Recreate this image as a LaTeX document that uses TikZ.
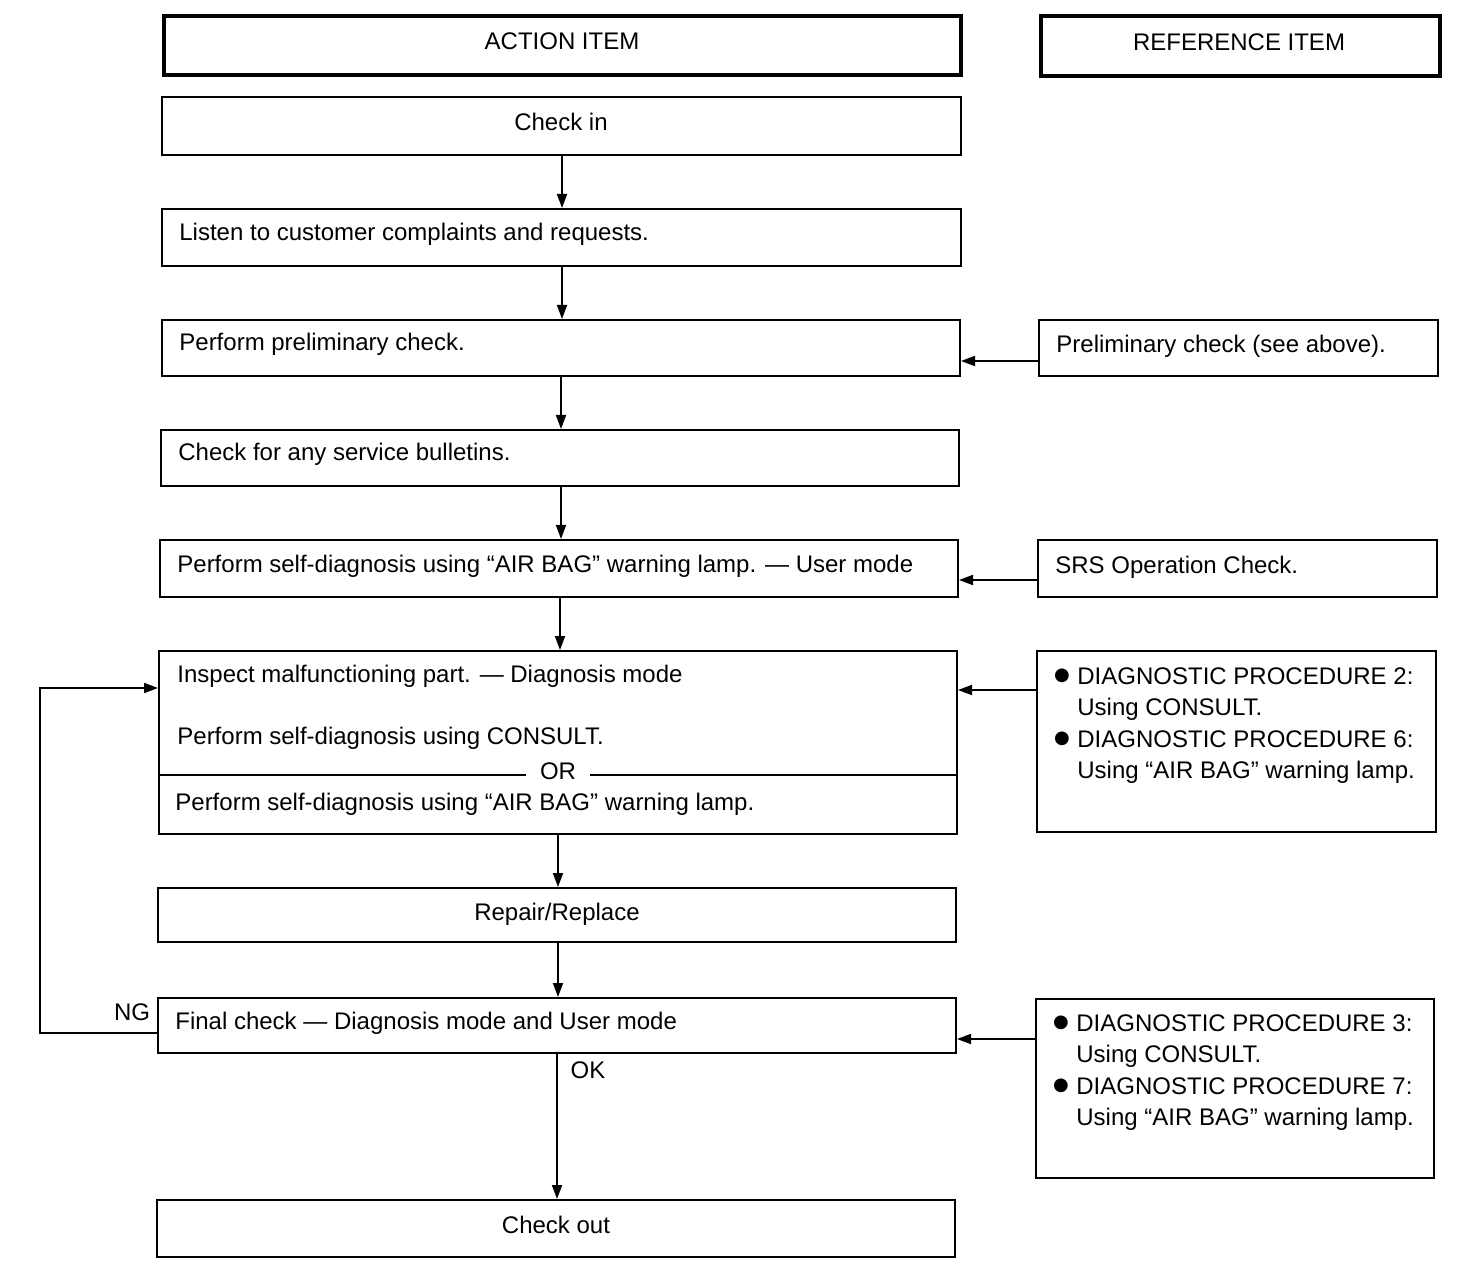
\documentclass[tikz,border=0pt]{standalone}
\usepackage{fontspec}
\setmainfont{Liberation Sans}
\newfontfamily\symfont{DejaVu Sans}
\usetikzlibrary{fit,arrows.meta}
\begin{document}
\begin{tikzpicture}[x=0.5pt,y=-0.5pt,
  box/.style={draw,line width=1pt,inner sep=0pt},
  hbox/.style={draw,line width=2pt,inner sep=0pt},
  txt/.style={font=\fontsize{12}{14}\selectfont,inner sep=0pt,anchor=west,text height=8.6pt,text depth=0pt},
  ctxt/.style={txt,anchor=center},
  bul/.style={font=\symfont\fontsize{9}{11}\selectfont,inner sep=0pt,anchor=center},
  arr/.style={line width=0.9pt,-{Triangle[length=7pt,width=5pt]}},
  ln/.style={line width=0.9pt}]
\useasboundingbox (0,0) rectangle (1472,1272);
% headers
\node[hbox,fit={(164,16) (961,75)}] (hact) {};
\node[ctxt] (hactt) at (562,41) {ACTION ITEM};
\node[hbox,fit={(1041,16) (1440,76)}] (href) {};
\node[ctxt] (hreft) at (1239,42) {REFERENCE ITEM};
% left boxes
\node[box,fit={(162,97) (961,155)}] (checkin) {};
\node[ctxt] (checkint) at (561,122) {Check in};
\node[box,fit={(162,209) (961,266)}] (listen) {};
\node[txt] (listent) at (179,232) {Listen to customer complaints and requests.};
\node[box,fit={(162,320) (960,376)}] (prelim) {};
\node[txt] (prelimt) at (179,342) {Perform preliminary check.};
\node[box,fit={(161,430) (959,486)}] (bull) {};
\node[txt] (bullt) at (178,452) {Check for any service bulletins.};
\node[box,fit={(160,540) (958,597)}] (user) {};
\node[txt] (usert) at (177,564) {Perform self-diagnosis using “AIR BAG” warning lamp. — User mode};
\node[box,fit={(159,651) (957,834)}] (insp) {};
\node[txt] (inspt1) at (177,674) {Inspect malfunctioning part. — Diagnosis mode};
\node[txt] (inspt2) at (177,736) {Perform self-diagnosis using CONSULT.};
\coordinate (orl) at (159,775);
\coordinate (orr) at (957,775);
\draw[ln] (orl) -- (orr);
\node[ctxt,fill=white,inner xsep=7pt,inner ysep=2pt] (ort) at (558,771) {OR};
\node[txt] (inspt3) at (175,802) {Perform self-diagnosis using “AIR BAG” warning lamp.};
\node[box,fit={(158,888) (956,942)}] (repair) {};
\node[ctxt] (repairt) at (557,912) {Repair/Replace};
\node[box,fit={(158,998) (956,1053)}] (final) {};
\node[txt] (finalt) at (175,1021) {Final check — Diagnosis mode and User mode};
\node[box,fit={(157,1200) (955,1257)}] (out) {};
\node[ctxt] (outt) at (556,1225) {Check out};
% right boxes
\node[box,fit={(1039,320) (1438,376)}] (rprelim) {};
\node[txt] (rprelimt) at (1056,344) {Preliminary check (see above).};
\node[box,fit={(1038,540) (1437,597)}] (rsrs) {};
\node[txt] (rsrst) at (1055,565) {SRS Operation Check.};
\node[box,fit={(1037,651) (1436,832)}] (rdiag1) {};
\node[bul] (b1) at (1062,676) {●};
\node[txt] (r1a) at (1077,676) {DIAGNOSTIC PROCEDURE 2:};
\node[txt] (r1b) at (1077,707) {Using CONSULT.};
\node[bul] (b2) at (1062,739) {●};
\node[txt] (r1c) at (1077,739) {DIAGNOSTIC PROCEDURE 6:};
\node[txt] (r1d) at (1077,770) {Using “AIR BAG” warning lamp.};
\node[box,fit={(1036,999) (1434,1178)}] (rdiag2) {};
\node[bul] (b3) at (1061,1023) {●};
\node[txt] (r2a) at (1076,1023) {DIAGNOSTIC PROCEDURE 3:};
\node[txt] (r2b) at (1076,1054) {Using CONSULT.};
\node[bul] (b4) at (1061,1086) {●};
\node[txt] (r2c) at (1076,1086) {DIAGNOSTIC PROCEDURE 7:};
\node[txt] (r2d) at (1076,1117) {Using “AIR BAG” warning lamp.};
% vertical arrows
\coordinate (v1) at (562,0);
\coordinate (v2) at (561,0);
\coordinate (v3) at (560,0);
\coordinate (v4) at (558,0);
\coordinate (v5) at (557,0);
\draw[arr] (v1 |- checkin.south) -- (v1 |- listen.north);
\draw[arr] (v1 |- listen.south) -- (v1 |- prelim.north);
\draw[arr] (v2 |- prelim.south) -- (v2 |- bull.north);
\draw[arr] (v2 |- bull.south) -- (v2 |- user.north);
\draw[arr] (v3 |- user.south) -- (v3 |- insp.north);
\draw[arr] (v4 |- insp.south) -- (v4 |- repair.north);
\draw[arr] (v4 |- repair.south) -- (v4 |- final.north);
\draw[arr] (v5 |- final.south) -- (v5 |- out.north);
% horizontal arrows
\coordinate (h1) at (0,361);
\coordinate (h2) at (0,580);
\coordinate (h3) at (0,690);
\coordinate (h4) at (0,1039);
\draw[arr] (rprelim.west |- h1) -- (prelim.east |- h1);
\draw[arr] (rsrs.west |- h2) -- (user.east |- h2);
\draw[arr] (rdiag1.west |- h3) -- (insp.east |- h3);
\draw[arr] (rdiag2.west |- h4) -- (final.east |- h4);
% NG loop
\coordinate (ngs) at (0,1033);
\coordinate (ngx) at (40,0);
\coordinate (nge) at (0,688);
\draw[arr] (final.west |- ngs) -- (ngx |- ngs) -- (ngx |- nge) -- (insp.west |- nge);
\node[ctxt] (ng) at (132,1012) {NG};
\node[ctxt] (ok) at (588,1070) {OK};
\end{tikzpicture}
\end{document}
